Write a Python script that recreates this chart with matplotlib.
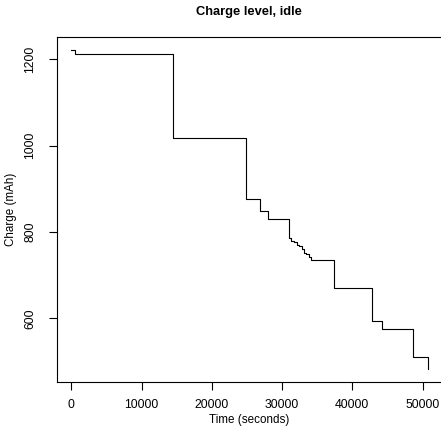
import numpy as np
import matplotlib
matplotlib.use("Agg")
import matplotlib.pyplot as plt

plt.rcParams['font.family'] = ['Liberation Sans', 'DejaVu Sans']

# battery log, idle run: time (s) and remaining charge (mAh)
time_s = [0, 570, 14470, 24850, 26880, 27980, 31050, 31300, 31700, 32100,
          32400, 32800, 33100, 33400, 33800, 34150, 37460, 42860, 44200,
          48650, 50740]
charge_mah = [1222, 1212, 1018, 876, 848, 831, 786, 780, 776, 770,
              767, 760, 752, 748, 742, 734, 670, 594, 575,
              510, 482]

x_ticks = [0, 10000, 20000, 30000, 40000, 50000]
y_ticks = [600, 800, 1000, 1200]

W, H = 441, 438
fig = plt.figure(figsize=(W / 100, H / 100), dpi=100)

# plot region in pixels: left 57, top 37, bottom 382, right just past the edge
left, right, top, bottom = 57, 442, 37, 382
ax = fig.add_axes([left / W, 1 - bottom / H, (right - left) / W, (bottom - top) / H])

# step plot, value holds until the next reading
xs = [time_s[0]]
ys = [charge_mah[0]]
for i in range(1, len(time_s)):
    xs += [time_s[i], time_s[i]]
    ys += [charge_mah[i - 1], charge_mah[i]]
ax.plot(xs, ys, color='black', lw=0.8)

span_x = time_s[-1] - time_s[0]
span_y = max(charge_mah) - min(charge_mah)
ax.set_xlim(time_s[0] - 0.04 * span_x, time_s[-1] + 0.04 * span_x)
ax.set_ylim(min(charge_mah) - 0.04 * span_y, max(charge_mah) + 0.04 * span_y)

ax.set_xticks(x_ticks)
ax.set_xticklabels([str(v) for v in x_ticks])
ax.set_yticks(y_ticks)
ax.set_yticklabels([str(v) for v in y_ticks], rotation=90, va='center')

ax.tick_params(axis='both', direction='out', length=6, width=0.8,
               labelsize=8.8, colors='black')
ax.tick_params(axis='x', pad=6)
ax.tick_params(axis='y', pad=9)

for sp in ax.spines.values():
    sp.set_linewidth(0.8)
    sp.set_color('black')

fig.text((left + 441) / 2 / W, 1 - 12 / H, 'Charge level, idle',
         ha='center', va='center', fontsize=9.3, fontweight='bold')
fig.text((left + 441) / 2 / W, 1 - 420 / H, 'Time (seconds)',
         ha='center', va='center', fontsize=8.4)
fig.text(11 / W, 1 - (top + bottom) / 2 / H, 'Charge (mAh)',
         ha='center', va='center', rotation=90, fontsize=8.4)

fig.savefig('out.png', dpi=100)
